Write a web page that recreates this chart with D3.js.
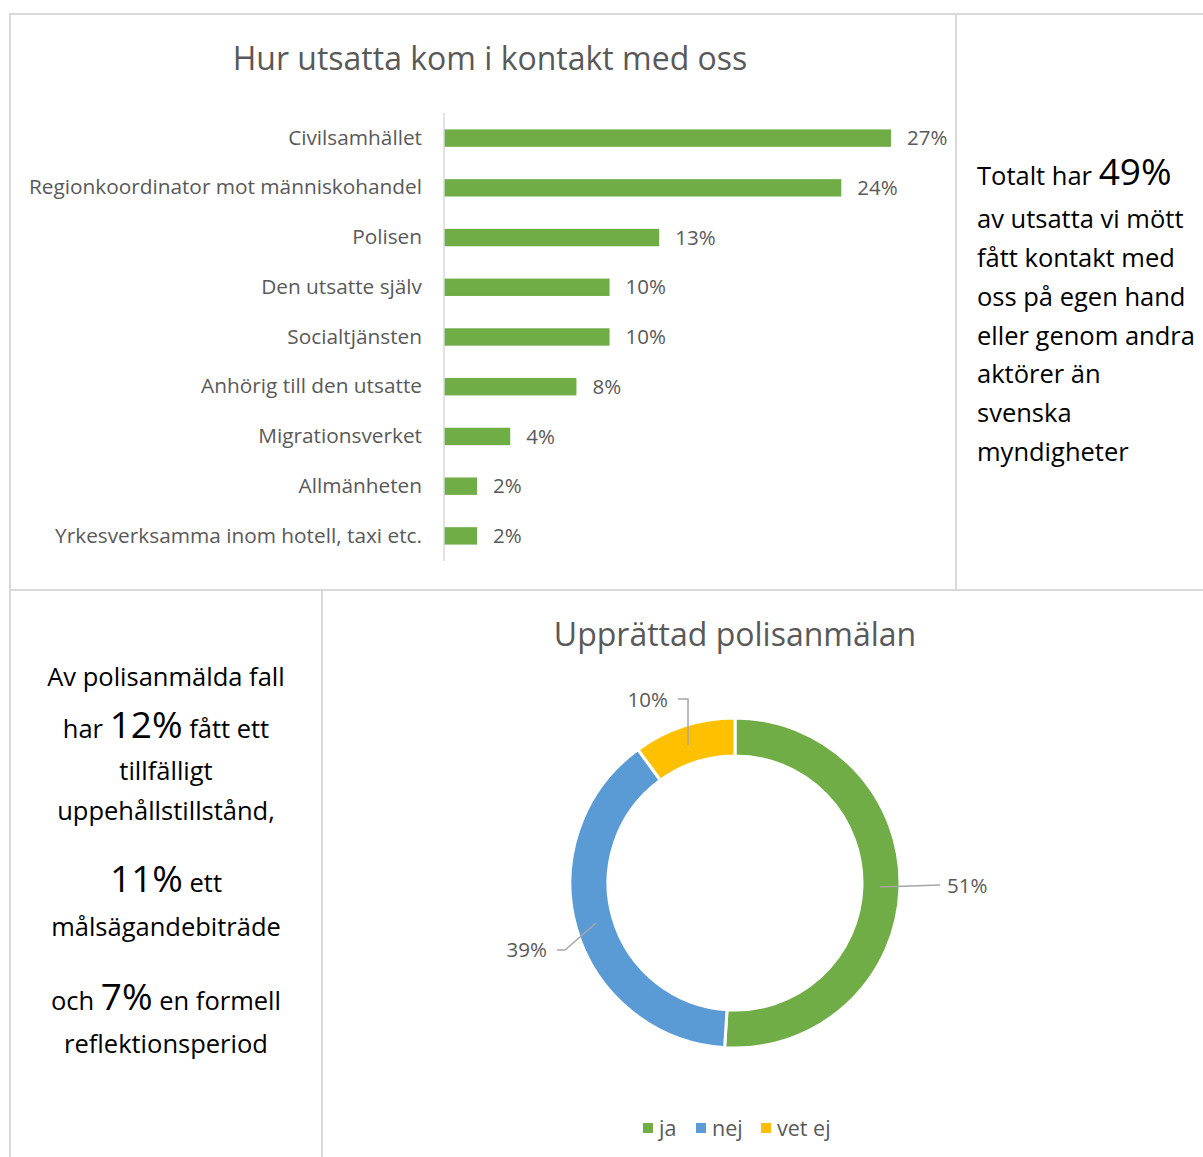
<!DOCTYPE html>
<html>
<head>
<meta charset="utf-8">
<script src="https://cdn.jsdelivr.net/npm/d3@7"></script>
<style>
  body { margin: 0; background: #fff; }
  svg { display: block; font-family: "Open Sans", Lato, sans-serif; }
</style>
</head>
<body>
<svg id="chart" width="1203" height="1157"></svg>
<script>
// bar chart data
var barCategories = ['Civilsamhället', 'Regionkoordinator mot människohandel', 'Polisen',
  'Den utsatte själv', 'Socialtjänsten', 'Anhörig till den utsatte', 'Migrationsverket',
  'Allmänheten', 'Yrkesverksamma inom hotell, taxi etc.']
var barValues = [27, 24, 13, 10, 10, 8, 4, 2, 2]

// donut data
var pieCategories = ['ja', 'nej', 'vet ej']
var pieValues = [51, 39, 10]
var pieColors = ['#70ad47', '#5b9bd5', '#ffc000']

var svg = d3.select('#chart')
var grey = '#595959'

// table borders
var borders = [
  [9, 14, 1203, 14], [10, 14, 10, 1157], [956, 14, 956, 590],
  [10, 590, 1203, 590], [322, 590, 322, 1157]
]
svg.append('g').selectAll('line').data(borders).enter().append('line')
  .attr('x1', function(d) { return d[0] }).attr('y1', function(d) { return d[1] })
  .attr('x2', function(d) { return d[2] }).attr('y2', function(d) { return d[3] })
  .attr('stroke', '#d9d9d9').attr('stroke-width', 2)

// === bar chart ===
svg.append('text').attr('x', 490).attr('y', 70).attr('text-anchor', 'middle')
  .attr('font-size', 32).attr('fill', grey).text('Hur utsatta kom i kontakt med oss')

var x = d3.scaleLinear().domain([0, 27]).range([444, 891])
var y = d3.scaleBand().domain(barCategories).range([113, 561]).paddingInner(0.65).paddingOuter(0.33)

var bars = svg.append('g')
bars.selectAll('rect').data(barValues).enter().append('rect')
  .attr('x', x(0))
  .attr('y', function(d, i) { return y(barCategories[i]) })
  .attr('width', function(d) { return x(d) - x(0) })
  .attr('height', y.bandwidth())
  .attr('fill', '#70ad47')

bars.selectAll('text.val').data(barValues).enter().append('text')
  .attr('class', 'val')
  .attr('x', function(d) { return x(d) + 16 })
  .attr('y', function(d, i) { return y(barCategories[i]) + y.bandwidth() / 2 })
  .attr('dy', '0.35em').attr('font-size', 20.5).attr('fill', grey)
  .text(function(d) { return d + '%' })

var yAxis = svg.append('g').attr('transform', 'translate(444,0)')
  .call(d3.axisLeft(y).tickSize(0).tickPadding(22))
yAxis.select('.domain').attr('stroke', '#d9d9d9').attr('stroke-width', 1.5)
  .attr('d', 'M0,113V561')
yAxis.selectAll('text').attr('font-size', 20.8).attr('fill', grey)
  .attr('font-family', '"Open Sans", Lato, sans-serif')

// right note
var note = svg.append('text').attr('font-size', 25.5).attr('fill', '#000')
var noteLines = [['Totalt har ', '49%'], ['av utsatta vi mött'], ['fått kontakt med'],
  ['oss på egen hand'], ['eller genom andra'], ['aktörer än'], ['svenska'], ['myndigheter']]
var noteY = [185, 228, 267, 306, 345, 383, 422, 461]
noteLines.forEach(function(parts, i) {
  note.append('tspan').attr('x', 977).attr('y', noteY[i]).text(parts[0])
  if (parts[1]) note.append('tspan').attr('font-size', 37).text(parts[1])
})

// === bottom left text ===
var leftLines = [
  [['Av polisanmälda fall', 25.5]],
  [['har ', 25.5], ['12%', 37], [' fått ett', 25.5]],
  [['tillfälligt', 25.5]],
  [['uppehållstillstånd,', 25.5]],
  [['11%', 37], [' ett', 25.5]],
  [['målsägandebiträde', 25.5]],
  [['och ', 25.5], ['7%', 37], [' en formell', 25.5]],
  [['reflektionsperiod', 25.5]]
]
var leftY = [686, 738, 780, 820, 892, 936, 1010, 1053]
leftLines.forEach(function(parts, i) {
  var line = svg.append('text').attr('x', 166).attr('y', leftY[i])
    .attr('text-anchor', 'middle').attr('fill', '#000')
  parts.forEach(function(p) {
    line.append('tspan').attr('font-size', p[1]).attr('xml:space', 'preserve').text(p[0])
  })
})

// === donut ===
svg.append('text').attr('x', 735).attr('y', 646).attr('text-anchor', 'middle')
  .attr('font-size', 32).attr('fill', grey).text('Upprättad polisanmälan')

var cx = 735, cy = 883
var pie = d3.pie().sort(null)(pieValues)
var arc = d3.arc().innerRadius(127).outerRadius(165)
var donut = svg.append('g').attr('transform', 'translate(' + cx + ',' + cy + ')')
donut.selectAll('path').data(pie).enter().append('path')
  .attr('d', arc)
  .attr('fill', function(d, i) { return pieColors[i] })
  .attr('stroke', '#fff').attr('stroke-width', 3)

// leader lines and labels (relative to centre)
var leaders = [
  { pts: [[145, 4], [205, 2]], tx: 212, ty: 3, anchor: 'start' },
  { pts: [[-139, 40], [-170, 67], [-178, 67]], tx: -188, ty: 67, anchor: 'end' },
  { pts: [[-47, -138], [-47, -184], [-57, -184]], tx: -67, ty: -183, anchor: 'end' }
]
leaders.forEach(function(l, i) {
  donut.append('path').attr('d', d3.line()(l.pts))
    .attr('fill', 'none').attr('stroke', '#a6a6a6').attr('stroke-width', 1.5)
  donut.append('text').attr('x', l.tx).attr('y', l.ty).attr('dy', '0.35em')
    .attr('text-anchor', l.anchor).attr('font-size', 20.5).attr('fill', grey)
    .text(pieValues[i] + '%')
})

// legend
var legendX = [643, 696, 761]
var legend = svg.append('g')
pieCategories.forEach(function(c, i) {
  legend.append('rect').attr('x', legendX[i]).attr('y', 1123).attr('width', 10).attr('height', 10)
    .attr('fill', pieColors[i])
  legend.append('text').attr('x', legendX[i] + 16).attr('y', 1128).attr('dy', '0.35em')
    .attr('font-size', 21.5).attr('fill', grey).text(c)
})
</script>
</body>
</html>
